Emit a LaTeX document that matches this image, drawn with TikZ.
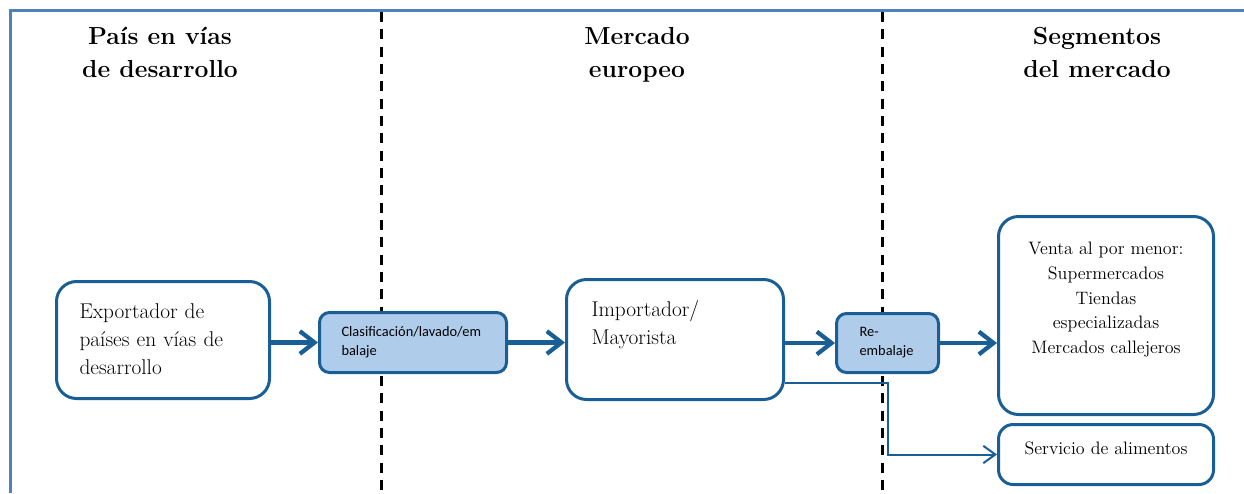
\documentclass[tikz,border=0pt]{standalone}
\usepackage{fontspec}
\newfontfamily\calib{Carlito}
\usepackage{tikz}
\usetikzlibrary{arrows.meta}
\definecolor{chainblue}{HTML}{1A5E96}
\definecolor{boxfill}{HTML}{AFCDEB}
\definecolor{framecol}{HTML}{4F81BD}
\tikzstyle{heading}=[anchor=north, inner sep=0pt, align=center, font=\bfseries\fontsize{18.5}{24.75}\selectfont]
\tikzstyle{box}=[draw=chainblue, line width=2.25pt, rounded corners=15pt, anchor=north west, inner ysep=0pt, font=\fontsize{16}{21}\selectfont]
\tikzstyle{bluebox}=[draw=chainblue, fill=boxfill, line width=2.25pt, rounded corners=7.5pt, anchor=north west, inner ysep=0pt, align=left, font=\calib\fontsize{10.8}{14.5}\selectfont]
\tikzstyle{arrow}=[draw=chainblue, line width=3.2pt, -{Straight Barb[length=11pt,width=17pt]}]
\tikzstyle{thinarrow}=[draw=chainblue, line width=1.5pt, -{Straight Barb[length=9pt,width=13pt]}]
\tikzstyle{divider}=[draw=black, line width=2.25pt, dash pattern=on 7.5pt off 5.5pt]

\begin{document}
\begin{tikzpicture}[x=0.75pt, y=-0.75pt]
	\useasboundingbox (0,0) rectangle (1244,493);
	\draw[framecol, line width=2.25pt] (10,493) -- (10,10) -- (1244,10);
	\draw[divider] (381,12) -- (381,493);
	\draw[divider] (882,12) -- (882,493);

	% column titles
	\node[heading] (t1) at (160,27) {País en vías\\de desarrollo};
	\node[heading] (t2) at (637,27) {Mercado\\europeo};
	\node[heading] (t3) at (1097,27) {Segmentos\\del mercado};

	% boxes
	\node[box, inner xsep=17.25pt, text width=125.25pt, align=left, text height=27.5pt, text depth=60.25pt] (exp) at (55,280)
		{Exportador de\\países en vías de\\desarrollo};
	\node[bluebox, inner xsep=16.5pt, text width=107.25pt, text height=18pt, text depth=27pt] (clas) at (318,311)
		{Clasificación/lavado/em\\balaje};
	\node[box, inner xsep=18.75pt, text width=125.25pt, align=left, text height=27.75pt, text depth=62.25pt] (imp) at (565,278)
		{Importador/\\Mayorista};
	\node[bluebox, inner xsep=17.25pt, text width=42pt, text height=17.25pt, text depth=27pt] (reemb) at (835,312)
		{Re-\\\mbox{embalaje}};
	\node[box, inner xsep=5pt, text width=151.25pt, align=center, text height=28.5pt, text depth=120pt, font=\fontsize{13.5}{18.6}\selectfont] (venta) at (997,215)
		{Venta al por menor:\\Supermercados\\Tiendas\\especializadas\\Mercados callejeros};
	\node[box, rounded corners=11pt, inner xsep=5pt, text width=151.25pt, align=center, text height=22.5pt, text depth=22.5pt, font=\fontsize{13.5}{18.6}\selectfont] (serv) at (997,423)
		{Servicio de alimentos};

	% flows
	\draw[arrow] (exp.east |- clas.west) -- (clas.west);
	\draw[arrow] (clas) -- (imp.west |- clas);
	\draw[arrow] (imp.east |- reemb) -- (reemb);
	\draw[arrow] (reemb) -- (venta.west |- reemb);
	\coordinate (split) at (888,383);
	\draw[thinarrow] (imp.east |- split) -- (split) |- (serv.west);
\end{tikzpicture}
\end{document}
